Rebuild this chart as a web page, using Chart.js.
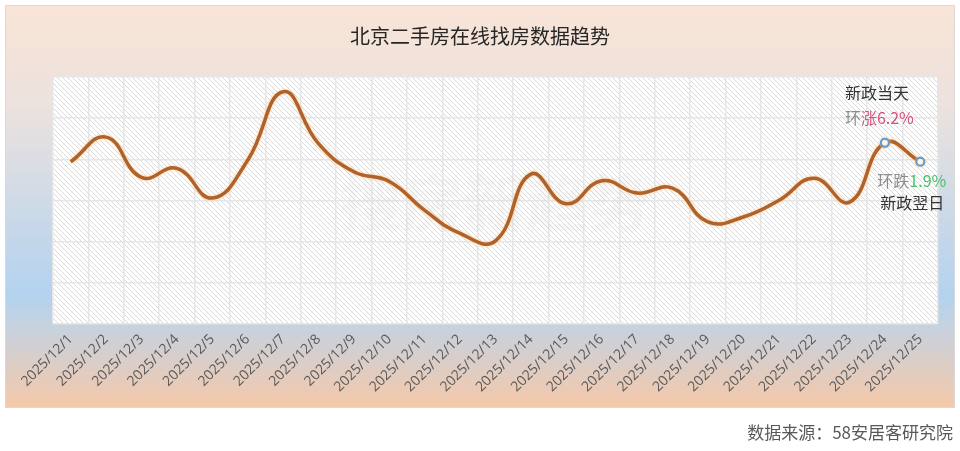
<!DOCTYPE html>
<html>
<head>
<meta charset="utf-8">
<script src="https://cdn.jsdelivr.net/npm/chart.js@4"></script>
<style>
  html, body { margin: 0; padding: 0; background: #fff; }
  #wrap { width: 960px; height: 451px; position: relative; }
</style>
</head>
<body>
<div id="wrap"><canvas id="chart" width="960" height="451"></canvas></div>
<script>
// 日期
const dates = [
  "2025/12/1", "2025/12/2", "2025/12/3", "2025/12/4", "2025/12/5",
  "2025/12/6", "2025/12/7", "2025/12/8", "2025/12/9", "2025/12/10",
  "2025/12/11", "2025/12/12", "2025/12/13", "2025/12/14", "2025/12/15",
  "2025/12/16", "2025/12/17", "2025/12/18", "2025/12/19", "2025/12/20",
  "2025/12/21", "2025/12/22", "2025/12/23", "2025/12/24", "2025/12/25"
];

// 找房热度（估读）
const values = [
  119.7, 122.7, 117.8, 118.9, 115.3,
  119.9, 128.2, 121.9, 118.5, 117.3,
  113.8, 111.0, 110.1, 118.2, 114.6,
  117.4, 115.9, 116.5, 112.4, 113.0,
  115.0, 117.7, 114.8, 122.0, 119.7
];

// 纵轴范围（刻度不显示）
const yMin = 100;
const yMax = 130;
const yStep = 5;

// 标注的两个点
const markIdx = [23, 24];

const title = "北京二手房在线找房数据趋势";
const source = "数据来源：58安居客研究院";
const watermark = "搜房新趋势";

const CJK = '"Noto Sans CJK SC", "Noto Sans", sans-serif';

// 斜线底纹
function makeHatch() {
  const c = document.createElement("canvas");
  c.width = 5; c.height = 5;
  const g = c.getContext("2d");
  g.fillStyle = "#ffffff";
  g.fillRect(0, 0, 5, 5);
  g.strokeStyle = "#dadada";
  g.lineWidth = 1;
  g.beginPath();
  g.moveTo(-1, -1); g.lineTo(6, 6);
  g.moveTo(-1, 4); g.lineTo(1, 6);
  g.moveTo(4, -1); g.lineTo(6, 1);
  g.stroke();
  return c;
}

const bgPlugin = {
  id: "bg",
  beforeDraw(chart) {
    const ctx = chart.ctx;
    const a = chart.chartArea;
    ctx.save();
    ctx.fillStyle = "#ffffff";
    ctx.fillRect(0, 0, chart.width, chart.height);

    // 外框渐变
    const grad = ctx.createLinearGradient(0, 5, 0, 408);
    grad.addColorStop(0, "#f9e4d6");
    grad.addColorStop(0.25, "#ece2de");
    grad.addColorStop(0.72, "#b3d2ef");
    grad.addColorStop(0.8, "#c6d2de");
    grad.addColorStop(1, "#f6c8a9");
    ctx.fillStyle = grad;
    ctx.fillRect(5, 5, 950, 403);
    ctx.strokeStyle = "#d9d9d9";
    ctx.lineWidth = 1;
    ctx.strokeRect(5.5, 5.5, 949, 402);

    // 绘图区底纹
    ctx.fillStyle = ctx.createPattern(makeHatch(), "repeat");
    ctx.fillRect(a.left, a.top, a.right - a.left, a.bottom - a.top);

    // 标题
    ctx.fillStyle = "#262626";
    ctx.font = "20px " + CJK;
    ctx.textAlign = "center";
    ctx.textBaseline = "middle";
    ctx.fillText(title, 480, 36);

    // 来源
    ctx.fillStyle = "#595959";
    ctx.font = "17px " + CJK;
    ctx.textAlign = "right";
    ctx.fillText(source, 953, 433);
    ctx.restore();
  },
  beforeDatasetsDraw(chart) {
    const ctx = chart.ctx;
    ctx.save();
    ctx.fillStyle = "rgba(190,190,190,0.09)";
    ctx.font = "bold 62px " + CJK;
    ctx.textAlign = "center";
    ctx.textBaseline = "middle";
    ctx.fillText(watermark, 495, 203);
    ctx.restore();
  },
  beforeDatasetDraw(chart) {
    const ctx = chart.ctx;
    ctx.save();
    ctx.shadowColor = "rgba(255,190,120,0.8)";
    ctx.shadowBlur = 3;
  },
  afterDatasetDraw(chart) {
    chart.ctx.restore();
  },
  afterDraw(chart) {
    const ctx = chart.ctx;
    const pts = chart.getDatasetMeta(0).data;
    const p1 = pts[markIdx[0]];
    const p2 = pts[markIdx[1]];
    ctx.save();
    ctx.textBaseline = "middle";
    ctx.font = "16px " + CJK;

    // 新政当天
    ctx.textAlign = "left";
    ctx.fillStyle = "#333333";
    ctx.fillText("新政当天", p1.x - 40, p1.y - 50);
    let x = p1.x - 40;
    ctx.fillStyle = "#8c8c8c";
    ctx.fillText("环", x, p1.y - 25);
    x += ctx.measureText("环").width;
    ctx.fillStyle = "#d2517e";
    ctx.fillText("涨6.2%", x, p1.y - 25);

    // 新政翌日
    x = p2.x - 43;
    ctx.fillStyle = "#8c8c8c";
    ctx.fillText("环跌", x, p2.y + 19);
    x += ctx.measureText("环跌").width;
    ctx.fillStyle = "#4cbf6e";
    ctx.fillText("1.9%", x, p2.y + 19);
    ctx.fillStyle = "#333333";
    ctx.fillText("新政翌日", p2.x - 40, p2.y + 41);
    ctx.restore();
  }
};

const ctx = document.getElementById("chart").getContext("2d");
new Chart(ctx, {
  type: "line",
  data: {
    labels: dates,
    datasets: [{
      data: values,
      borderColor: "#b0622b",
      borderWidth: 3.5,
      tension: 0.45,
      fill: false,
      pointRadius: values.map((v, i) => markIdx.includes(i) ? 4 : 0),
      pointBackgroundColor: "#ffffff",
      pointBorderColor: "#5b9bd5",
      pointBorderWidth: 2
    }]
  },
  options: {
    responsive: false,
    animation: false,
    layout: { padding: { top: 77, left: 53, right: 22, bottom: 0 } },
    plugins: {
      legend: { display: false },
      tooltip: { enabled: false }
    },
    scales: {
      x: {
        offset: true,
        grid: { color: "#e6e6e6", lineWidth: 1.5, drawTicks: false, offset: true },
        border: { display: false },
        ticks: {
          autoSkip: false,
          minRotation: 45,
          maxRotation: 45,
          padding: 7,
          color: "#595959",
          font: { family: '"Open Sans", "DejaVu Sans", sans-serif', size: 14 }
        },
        afterFit(scale) { scale.height = 127; }
      },
      y: {
        min: yMin,
        max: yMax,
        grid: { color: "#e6e6e6", lineWidth: 1.5, drawTicks: false },
        border: { display: false },
        ticks: { display: false, stepSize: yStep },
        afterFit(scale) { scale.width = 0; }
      }
    }
  },
  plugins: [bgPlugin]
});
</script>
</body>
</html>
